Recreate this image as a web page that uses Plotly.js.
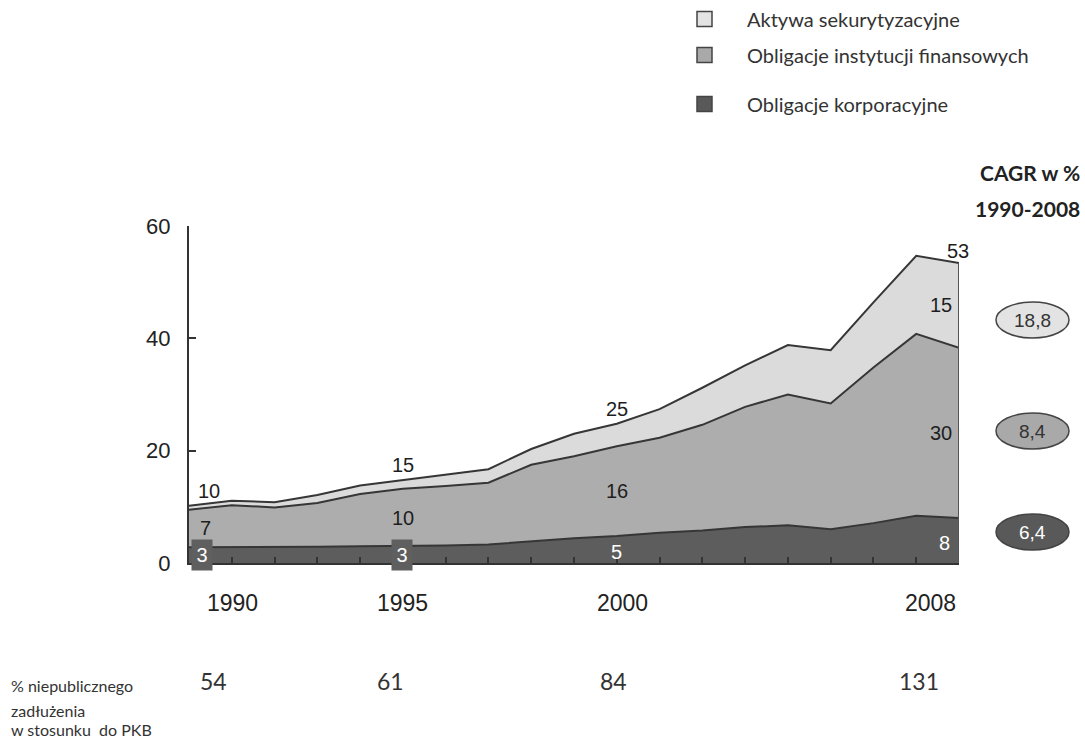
<!DOCTYPE html>
<html>
<head>
<meta charset="utf-8">
<script src="https://cdn.plot.ly/plotly-3.0.1.min.js"></script>
<style>
  html, body { margin: 0; padding: 0; background: #ffffff; }
  #chart { width: 1085px; height: 738px; }
</style>
</head>
<body>
<div id="chart"></div>
<script>
// Niepubliczne zadłużenie (% PKB) w podziale na rodzaje instrumentów, 1990-2008
const years = [1990, 1991, 1992, 1993, 1994, 1995, 1996, 1997, 1998, 1999,
               2000, 2001, 2002, 2003, 2004, 2005, 2006, 2007, 2008];
const corporateBonds   = [2.8, 2.8, 2.8, 2.9, 3.0, 3.0, 3.1, 3.3, 3.9, 4.4,
                          4.8, 5.4, 5.8, 6.4, 6.7, 6.0, 7.1, 8.4, 8.0];
const financialBonds   = [6.7, 7.5, 7.1, 7.8, 9.3, 10.2, 10.6, 11.0, 13.6, 14.6,
                          16.0, 16.9, 18.8, 21.4, 23.3, 22.4, 27.7, 32.4, 30.3];
const securitizedAssets = [0.7, 0.8, 0.9, 1.4, 1.5, 1.6, 2.0, 2.4, 2.8, 4.0,
                           4.0, 5.1, 6.6, 7.4, 8.8, 9.5, 11.6, 13.9, 15.1];

const seriesNames = ['Obligacje korporacyjne', 'Obligacje instytucji finansowych', 'Aktywa sekurytyzacyjne'];
const cagrPercent = [6.4, 8.4, 18.8];           // CAGR 1990-2008, same order as seriesNames
const labelYears = [1990, 1995, 2000, 2008];    // years with value labels
const debtToGdp = [54, 61, 84, 131];            // % niepublicznego zadłużenia w stosunku do PKB
const yTickValues = [0, 20, 40, 60];

// ---- geometry of the plotting area (pixels) ----
const W = 1085, H = 738;
const M = { l: 189, r: 126, t: 226, b: 175 };
const plotW = W - M.l - M.r, plotH = H - M.t - M.b;
const px = x => (x - M.l) / plotW;          // pixel x -> paper x
const py = y => 1 - (y - M.t) / plotH;      // pixel y -> paper y

const fills = ['#5d5d5d', '#adadad', '#dbdbdb'];
const badgeFills = ['#595959', '#a9a9a9', '#e3e3e3'];
const edge = '#363636';
const numFont = 'Liberation Sans, Arial, sans-serif';
const textFont = 'Lato, Carlito, Calibri, sans-serif';

const layers = [corporateBonds, financialBonds, securitizedAssets];
const traces = layers.map((vals, i) => ({
  x: years, y: vals, type: 'scatter', mode: 'lines',
  stackgroup: 'debt', name: seriesNames[i],
  line: { color: edge, width: 2, shape: 'linear' },
  fillcolor: fills[i],
  hovertemplate: '%{x}: %{y:.1f}<extra>' + seriesNames[i] + '</extra>'
}));

// cumulative tops of the stacked layers
const topCorp = corporateBonds.slice();
const topFin = years.map((_, i) => corporateBonds[i] + financialBonds[i]);
const topAll = years.map((_, i) => topFin[i] + securitizedAssets[i]);

const annotations = [];
const shapes = [];

// helper for free text placed in pixel space
function pixelText(x, y, text, font, xanchor) {
  annotations.push({ x: px(x), y: py(y), xref: 'paper', yref: 'paper',
    xanchor: xanchor || 'center', yanchor: 'middle', text: text, showarrow: false, font: font });
}

// value labels at selected years
const labelShift = [16, 0, 0, -18];
labelYears.forEach((yr, k) => {
  const i = years.indexOf(yr);
  const dx = labelShift[k];
  const big = { family: numFont, size: 20, color: '#1e1e1e' };
  // total
  annotations.push({ x: yr, y: topAll[i], xref: 'x', yref: 'y', text: String(Math.round(topAll[i])),
    showarrow: false, xanchor: 'center', yanchor: 'middle',
    xshift: k === 3 ? -1 : (k === 0 ? 20 : dx), yshift: k === 3 ? 12 : 15, font: big });
  // financial institutions
  annotations.push({ x: yr, y: topCorp[i] + financialBonds[i] / 2, xref: 'x', yref: 'y',
    text: String(Math.round(financialBonds[i])), showarrow: false, xanchor: 'center', yanchor: 'middle',
    xshift: dx, font: big });
  // securitized assets (only where the band is wide enough)
  if (securitizedAssets[i] > 10) {
    annotations.push({ x: yr, y: topFin[i] + securitizedAssets[i] / 2, xref: 'x', yref: 'y',
      text: String(Math.round(securitizedAssets[i])), showarrow: false, xanchor: 'center', yanchor: 'middle',
      xshift: dx, font: big });
  }
  // corporate bonds
  const boxed = corporateBonds[i] < 3.5;
  annotations.push({ x: yr, y: corporateBonds[i] / 2, xref: 'x', yref: 'y',
    text: String(Math.round(corporateBonds[i])), showarrow: false, xanchor: 'center', yanchor: 'middle',
    xshift: boxed ? (k === 0 ? 13 : -1) : (k === 3 ? dx + 3 : dx), yshift: boxed ? 0 : -2,
    bgcolor: boxed ? '#5f5f5f' : 'rgba(0,0,0,0)', width: boxed ? 18 : undefined, height: boxed ? 28 : undefined,
    font: { family: numFont, size: 20, color: '#ffffff' } });
  // year label under the axis
  annotations.push({ x: yr, y: 0, xref: 'x', yref: 'y', text: String(yr), showarrow: false,
    xanchor: 'center', yanchor: 'middle',
    xshift: [43, 0, 6, -29][k], yshift: -40, font: { family: numFont, size: 23, color: '#222222' } });
  // debt-to-GDP row
  annotations.push({ x: yr, y: py(681), xref: 'x', yref: 'paper', text: String(debtToGdp[k]),
    showarrow: false, xanchor: 'center', yanchor: 'middle',
    xshift: [24, -12, -3, -40][k], font: { family: textFont, size: 23, color: '#333333' } });
});

// closing edge of the stacked area at the last year
const last = years.length - 1;
shapes.push({ type: 'line', xref: 'x', yref: 'y', x0: years[last], x1: years[last], y0: 0, y1: topAll[last],
  line: { color: '#555555', width: 2 } });

// row caption
const captionFont = { family: textFont, size: 16, color: '#333333' };
['% niepublicznego', 'zadłużenia', 'w stosunku\u00a0 do PKB'].forEach((t, j) => {
  pixelText(9, [685, 710, 729][j], t, captionFont, 'left');
});

// legend (top to bottom: securitized, financial, corporate)
const legendY = [104, 55, 19];
const legendFont = { family: textFont, size: 20, color: '#333333' };
seriesNames.forEach((name, i) => {
  const cy = legendY[i];
  shapes.push({ type: 'rect', xref: 'paper', yref: 'paper', x0: px(697), x1: px(712), y0: py(cy + 7.5), y1: py(cy - 7.5),
    fillcolor: badgeFills[i], line: { color: '#444444', width: 1.5 } });
  pixelText(745, cy, name, legendFont, 'left');
});

// CAGR column
const headFont = { family: textFont, size: 21, color: '#222222' };
pixelText(1082, 172, '<b>CAGR w %</b>', headFont, 'right');
pixelText(1082, 209, '<b>1990-2008</b>', headFont, 'right');
const badgeY = [532, 431, 320];
cagrPercent.forEach((v, i) => {
  const cy = badgeY[i];
  shapes.push({ type: 'circle', xref: 'paper', yref: 'paper', x0: px(996), x1: px(1069), y0: py(cy + 18), y1: py(cy - 18),
    fillcolor: badgeFills[i], line: { color: '#444444', width: 1.5 } });
  pixelText(1032, cy, v.toFixed(1).replace('.', ','),
    { family: numFont, size: 19, color: i === 0 ? '#ffffff' : '#333333' });
});

const layout = {
  width: W, height: H,
  margin: M,
  paper_bgcolor: '#ffffff', plot_bgcolor: '#ffffff',
  showlegend: false,
  xaxis: {
    range: [years[0], years[last]], showgrid: false, zeroline: false,
    showline: true, linecolor: '#333333', linewidth: 2,
    tickvals: years, ticks: 'inside', ticklen: 6, tickwidth: 2, tickcolor: '#333333',
    showticklabels: false, fixedrange: true
  },
  yaxis: {
    range: [0, 60], showgrid: false, zeroline: false,
    showline: true, linecolor: '#333333', linewidth: 2,
    tickvals: yTickValues, ticks: 'inside', ticklen: 7, tickwidth: 2, tickcolor: '#333333',
    ticklabelstandoff: 12,
    tickfont: { family: numFont, size: 22, color: '#222222' }, fixedrange: true
  },
  annotations: annotations,
  shapes: shapes
};

Plotly.newPlot('chart', traces, layout, { displayModeBar: false, staticPlot: true });
</script>
</body>
</html>
